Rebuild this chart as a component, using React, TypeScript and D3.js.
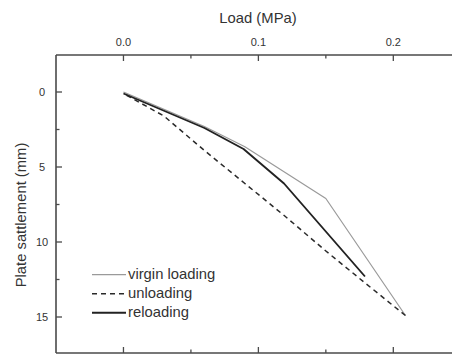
import React from "react";
import * as d3 from "d3";

const loadVirgin = [0.0, 0.06, 0.09, 0.15, 0.209];
const settleVirgin = [0.0, 2.3, 3.65, 7.1, 14.9];
const loadUnload = [0.209, 0.18, 0.15, 0.12, 0.09, 0.06, 0.03, 0.0];
const settleUnload = [14.9, 12.8, 10.6, 8.3, 6.1, 3.9, 1.6, 0.1];
const loadReload = [0.0, 0.06, 0.089, 0.119, 0.179];
const settleReload = [0.1, 2.4, 3.8, 6.1, 12.3];
const xMajor = [0.0, 0.1, 0.2];
const xMinor = [0.05, 0.15];
const yMajor = [0, 5, 10, 15];
const yMinor = [2.5, 7.5, 12.5];
const xTickLabels = ["0.0", "0.1", "0.2"];
const legendLabels = ["virgin loading", "unloading", "reloading"];

const W = 452;
const H = 354;
const left = 56;
const top = 55;
const bottom = 353;

export default function App() {
  const x = d3.scaleLinear().domain([-0.05, 0.2435]).range([left, W]);
  const y = d3.scaleLinear().domain([-2.5, 17.4]).range([54.5, bottom]);
  const line = d3
    .line<[number, number]>()
    .x((d) => x(d[0]))
    .y((d) => y(d[1]));
  const zip = (a: number[], b: number[]) => a.map((v, i) => [v, b[i]] as [number, number]);

  const font = "Liberation Sans, Arial, sans-serif";
  const axisColor = "#4a4a4a";

  const styles = [
    { stroke: "#9a9a9a", width: 1.2, dash: "" },
    { stroke: "#2a2a2a", width: 1.5, dash: "5,4" },
    { stroke: "#222", width: 1.9, dash: "" },
  ];
  const series = [
    zip(loadVirgin, settleVirgin),
    zip(loadUnload, settleUnload),
    zip(loadReload, settleReload),
  ];

  return (
    <svg
      width={W}
      height={H}
      style={{ position: "absolute", left: 0, top: 0, background: "#fff" }}
      fontFamily={font}
    >
      <rect x={0} y={0} width={W} height={H} fill="#fff" />
      <line x1={left} x2={W} y1={top} y2={top} stroke={axisColor} strokeWidth={1.6} />
      <line x1={left} x2={W} y1={bottom} y2={bottom} stroke={axisColor} strokeWidth={1.6} />
      <line x1={left} x2={left} y1={top} y2={bottom} stroke={axisColor} strokeWidth={1.6} />
      {xMajor.map((v) => (
        <g key={"xm" + v}>
          <line x1={x(v)} x2={x(v)} y1={top} y2={top + 6} stroke={axisColor} strokeWidth={1.3} />
          <line x1={x(v)} x2={x(v)} y1={bottom} y2={bottom - 6} stroke={axisColor} strokeWidth={1.3} />
        </g>
      ))}
      {xMinor.map((v) => (
        <g key={"xn" + v}>
          <line x1={x(v)} x2={x(v)} y1={top} y2={top + 3.5} stroke={axisColor} strokeWidth={1.3} />
          <line x1={x(v)} x2={x(v)} y1={bottom} y2={bottom - 3.5} stroke={axisColor} strokeWidth={1.3} />
        </g>
      ))}
      {xMajor.map((v, i) => (
        <text key={"xl" + v} x={x(v)} y={45.5} textAnchor="middle" fontSize={11} fill="#333">
          {xTickLabels[i]}
        </text>
      ))}
      <text x={258} y={23} textAnchor="middle" fontSize={14.8} fill="#333">
        Load (MPa)
      </text>
      {yMajor.map((v) => (
        <g key={"ym" + v}>
          <line x1={left} x2={left + 6} y1={y(v)} y2={y(v)} stroke={axisColor} strokeWidth={1.3} />
          <text x={42} y={y(v)} dy="0.36em" textAnchor="middle" fontSize={11} fill="#333">
            {v}
          </text>
        </g>
      ))}
      {yMinor.map((v) => (
        <line key={"yn" + v} x1={left} x2={left + 3.5} y1={y(v)} y2={y(v)} stroke={axisColor} strokeWidth={1.3} />
      ))}
      <text
        transform={`translate(26,215) rotate(-90)`}
        textAnchor="middle"
        fontSize={14.8}
        fill="#333"
      >
        Plate sattlement (mm)
      </text>
      {series.map((s, i) => (
        <path
          key={"s" + i}
          d={line(s) || ""}
          fill="none"
          stroke={styles[i].stroke}
          strokeWidth={styles[i].width}
          strokeDasharray={styles[i].dash || undefined}
          strokeLinejoin="round"
        />
      ))}
      {legendLabels.map((lab, i) => {
        const ly = 274.7 + i * 19;
        return (
          <g key={"lg" + i}>
            <line
              x1={92}
              x2={126}
              y1={ly}
              y2={ly}
              stroke={styles[i].stroke}
              strokeWidth={styles[i].width}
              strokeDasharray={styles[i].dash || undefined}
            />
            <text x={128} y={ly + 4.5} fontSize={14.8} fill="#333">
              {lab}
            </text>
          </g>
        );
      })}
    </svg>
  );
}
